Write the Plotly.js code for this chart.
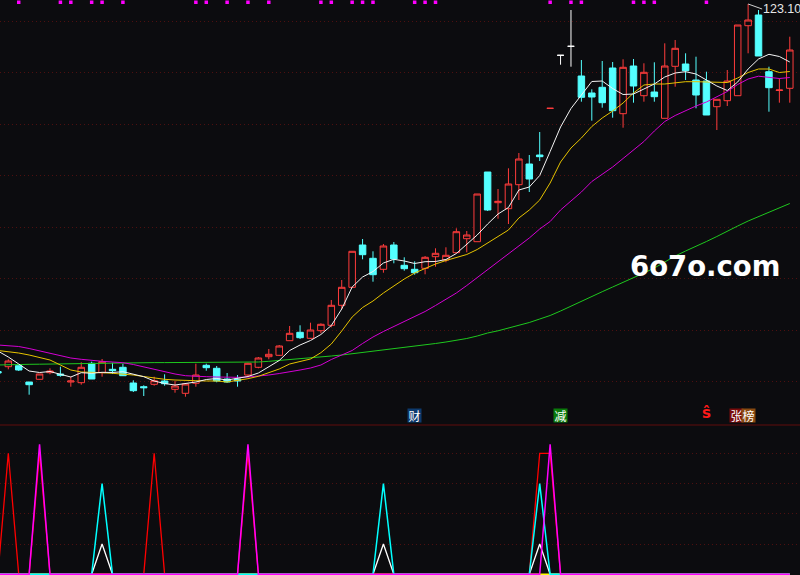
<!DOCTYPE html>
<html><head><meta charset="utf-8">
<script src="https://cdn.plot.ly/plotly-3.0.1.min.js"></script>
<style>html,body{margin:0;padding:0;background:#0c0c0f;}#chart{width:800px;height:575px;}</style>
</head><body><div id="chart"></div>
<script>
// ---- price data (one entry per trading day) ----
const open = [49.6,50.56,50.76,47.5,48.04,49.36,49.1,47.5,47.36,51.24,49.36,50.04,50.44,47.3,46.56,47.04,47.7,46.04,45.24,47.24,50.84,50.24,48.1,48.1,48.9,50.44,52.56,52.84,55.76,57.44,56.24,57.76,58.84,62.84,66.44,74.9,72.24,70.04,74.9,70.84,70.04,70.24,72.56,71.9,73.36,76.16,75.56,89.5,83.36,82.16,86.96,91.1,92.9,102.24,112.84,114.64,108.7,105.3,106.44,110.3,101.16,110.7,104.76,105.5,100.24,110.64,111.1,107.9,107.7,102.56,103.76,104.76,118.76,120.9,109.56,105.8,106.24];
const high = [49.9,52.04,50.8,47.5,49.1,50.24,50.56,48.56,51.44,51.56,52.1,51.36,51.16,47.84,46.84,48.56,49.04,47.7,47.1,51.16,51.16,50.7,49.3,48.9,51.36,52.5,54.1,54.9,58.7,58.84,59.36,59.24,63.9,67.9,73.64,76.1,73.64,75.1,75.5,72.44,71.64,72.7,74.24,74.44,78.24,77.7,85.1,89.5,86.1,90.24,93.3,92.9,97.5,102.24,112.84,121.9,111.9,106.04,111.7,111.5,112.04,112.1,111.24,111.44,115.24,115.9,113.24,112.56,109.56,104.04,109.9,118.9,123.1,121.9,110.56,108.24,116.56];
const low = [49.1,50.04,49.7,44.96,48.0,49.04,48.56,46.56,46.96,48.1,48.56,49.1,48.7,45.5,44.7,46.76,46.76,45.36,44.56,46.56,49.76,47.44,47.36,46.56,48.56,50.24,52.04,52.7,55.76,56.1,56.1,57.24,58.44,62.1,66.44,72.04,67.56,69.36,71.24,69.76,68.96,69.04,70.56,71.44,73.24,73.44,75.56,81.7,80.16,79.1,83.9,85.5,91.7,102.24,110.96,110.56,103.56,99.76,102.36,100.36,98.36,103.36,103.56,103.56,100.24,106.56,107.9,102.24,100.9,97.9,102.7,104.76,113.24,112.7,101.56,103.36,103.36];
const close = [49.3,51.7,49.9,46.96,49.1,49.7,48.84,47.7,50.44,48.1,51.56,49.76,48.76,45.76,46.36,47.76,47.16,46.7,47.1,48.9,50.36,47.7,47.5,47.7,51.24,52.3,53.04,54.7,57.24,56.36,57.9,59.04,62.84,66.44,73.64,72.96,68.96,74.7,72.1,70.16,69.36,72.44,73.24,72.84,77.56,76.9,85.1,81.9,83.64,87.1,92.1,88.1,92.56,102.24,112.84,114.64,104.44,104.5,103.36,101.76,110.44,106.7,109.44,104.56,110.7,114.24,109.76,104.9,100.9,104.04,107.7,118.9,119.9,112.7,106.36,105.9,113.9];

// ---- moving averages ----
const ma5 = [53.7,52.5,51.1,49.7,49.4,49.6,49.04,48.5,49.36,49.24,49.44,49.4,49.56,49.04,48.56,47.7,47.2,46.9,47.2,47.5,48.0,48.2,47.9,48.2,48.6,49.3,50.5,51.8,53.8,54.9,55.8,57.0,58.8,62.1,66.5,68.5,69.6,71.3,72.04,71.7,71.2,71.56,71.6,72.0,73.2,75.1,76.9,79.1,81.1,82.4,85.9,86.5,88.8,93.6,98.5,102.2,104.9,107.6,107.7,106.2,105.0,105.1,106.1,107.1,108.5,109.3,109.56,109.1,107.9,106.7,105.8,107.5,110.1,112.1,113.04,112.6,111.5];
const ma10 = [53.8,53.6,53.3,52.9,52.4,51.9,50.9,49.9,49.5,49.36,49.36,49.24,49.1,48.9,48.6,48.3,48.04,47.9,47.9,47.76,47.7,47.7,47.5,47.8,48.16,48.64,49.4,50.1,51.1,51.56,52.1,53.36,55.1,57.7,60.5,62.4,63.7,65.3,66.7,68.1,69.3,70.2,71.1,71.8,72.4,73.0,74.0,75.3,76.5,77.9,80.3,81.9,83.9,87.3,91.5,94.3,96.3,98.6,100.3,101.7,103.3,105.3,106.9,107.1,107.1,107.4,107.56,107.56,107.5,107.36,107.4,108.3,109.4,110.1,110.1,109.4,109.6];
const ma20 = [54.9,54.8,54.6,54.2,53.7,53.3,52.7,52.3,52.04,51.8,51.64,51.5,51.36,51.0,50.5,50.0,49.5,49.1,48.76,48.6,48.56,48.5,48.4,48.44,48.5,48.64,48.9,49.2,49.5,49.9,50.3,50.9,52.0,52.9,53.8,55.2,56.5,57.6,58.6,59.6,60.6,61.6,62.8,64.0,65.3,66.8,68.4,69.9,71.5,73.1,74.7,76.3,78.1,79.6,81.9,83.7,85.5,87.6,89.1,90.5,92.2,93.9,95.6,97.7,99.6,100.8,101.8,102.7,103.5,104.6,105.6,107.0,108.1,108.66,108.4,108.2,108.4];
const ma60 = [50.9,50.9,51.0,51.04,51.06,51.1,51.1,51.2,51.24,51.26,51.3,51.34,51.36,51.36,51.36,51.38,51.38,51.4,51.4,51.42,51.42,51.44,51.44,51.42,51.4,51.5,51.64,51.8,51.94,52.14,52.34,52.5,52.7,52.9,53.14,53.4,53.64,53.9,54.14,54.4,54.66,54.9,55.2,55.5,55.8,56.2,56.7,57.3,57.74,58.3,58.8,59.4,60.1,60.8,61.7,62.7,63.7,64.6,65.56,66.5,67.4,68.3,69.3,70.3,71.5,72.7,73.7,74.6,75.6,76.6,77.7,78.7,79.7,80.6,81.5,82.4,83.2];

// ---- flag days (magenta squares on top) ----
const flagIdx = [2,6,7,9,10,12,19,20,22,24,26,31,32,34,35,36,40,41,42,53,55,56,61,62,63,68];

// ---- lower indicator ----
const indRed     = [0,4,0,0,4,0,0,0,0,0,0,0,0,0,0,4,0,0,0,0,0,0,0,0,4,0,0,0,0,0,0,0,0,0,0,0,0,0,0,0,0,0,0,0,0,0,0,0,0,0,0,0,4,4,0,0,0,0,0,0,0,0,0,0,0,0,0,0,0,0,0,0,0,0,0,0,0];
const indMagenta = [0,0,0,0,4.3,0,0,0,0,0,0,0,0,0,0,0,0,0,0,0,0,0,0,0,4.3,0,0,0,0,0,0,0,0,0,0,0,0,0,0,0,0,0,0,0,0,0,0,0,0,0,0,0,0,4.3,0,0,0,0,0,0,0,0,0,0,0,0,0,0,0,0,0,0,0,0,0,0,0];
const indCyan    = [0,0,0,0,0,0,0,0,0,0,3,0,0,0,0,0,0,0,0,0,0,0,0,0,0,0,0,0,0,0,0,0,0,0,0,0,0,3,0,0,0,0,0,0,0,0,0,0,0,0,0,0,3,0,0,0,0,0,0,0,0,0,0,0,0,0,0,0,0,0,0,0,0,0,0,0,0];
const indWhite   = [0,0,0,0,0,0,0,0,0,0,1,0,0,0,0,0,0,0,0,0,0,0,0,0,0,0,0,0,0,0,0,0,0,0,0,0,0,1,0,0,0,0,0,0,0,0,0,0,0,0,0,0,1,0,0,0,0,0,0,0,0,0,0,0,0,0,0,0,0,0,0,0,0,0,0,0,0];
const indYellow  = open.map(() => 0);

// ---- text marks ----
const highLabel = '123.10';
const highIdx = 72;

const BG = '#0c0c0f';
const idx = open.map((_, i) => i);
function pick(cond) {
  const s = idx.filter(cond);
  return {x: s, open: s.map(i => open[i]), high: s.map(i => high[i]), low: s.map(i => low[i]), close: s.map(i => close[i])};
}
const upSet = pick(i => close[i] > open[i] || (close[i] === open[i] && high[i] === low[i]));
const dnSet = pick(i => close[i] < open[i]);
const flatSet = pick(i => close[i] === open[i] && high[i] !== low[i]);

function candle(s, color, fill) {
  return {type: 'candlestick', x: s.x, open: s.open, high: s.high, low: s.low, close: s.close,
    xaxis: 'x', yaxis: 'y', whiskerwidth: 0, hoverinfo: 'skip',
    increasing: {line: {color: color, width: 1}, fillcolor: fill},
    decreasing: {line: {color: color, width: 1}, fillcolor: fill}};
}
function line(y, color, yaxis, w) {
  return {type: 'scatter', mode: 'lines', x: idx, y: y, xaxis: 'x', yaxis: yaxis,
    line: {color: color, width: w || 1}, hoverinfo: 'skip'};
}

const yMain = [38.9, 123.9];
const traces = [
  candle(upSet, '#ff3c3c', BG),
  candle(dnSet, '#54ffff', '#54ffff'),
  candle(flatSet, '#ffffff', '#ffffff'),
  line(ma60, '#1ec81e', 'y'),
  line(ma20, '#d400d4', 'y'),
  line(ma10, '#e6c300', 'y'),
  line(ma5, '#f4f4f4', 'y'),
  {type: 'scatter', mode: 'markers', x: flagIdx, y: flagIdx.map(() => yMain[1] - 0.45), xaxis: 'x', yaxis: 'y',
   marker: {symbol: 'square', size: 3.5, color: '#ff00ff', line: {width: 0}}, hoverinfo: 'skip', cliponaxis: false},
  line(indYellow, '#ffff00', 'y2', 1.5),
  line(indWhite, '#ffffff', 'y2', 1.3),
  line(indRed, '#ff0000', 'y2', 1.3),
  line(indCyan, '#00ffff', 'y2', 1.5),
  line(indMagenta, '#ff00ff', 'y2', 1.5)
];

const sep = 150 / 575;
const grid = '#4e1010';
const layout = {
  width: 800, height: 575, margin: {l: 0, r: 0, t: 0, b: 0, pad: 0},
  paper_bgcolor: BG, plot_bgcolor: BG, showlegend: false,
  boxgap: 0.22, boxgroupgap: 0.2,
  xaxis: {range: [0.2035, 76.98], showgrid: false, zeroline: false, showticklabels: false, ticks: '',
          showline: false, rangeslider: {visible: false}, fixedrange: true},
  yaxis: {domain: [sep, 1], range: yMain, showgrid: true, gridcolor: grid, griddash: '1px,3px', gridwidth: 1,
          tick0: 47.6, dtick: 10.3, zeroline: false, showticklabels: false, ticks: '', showline: false},
  yaxis2: {domain: [0, sep], range: [-0.023, 4.936], showgrid: true, gridcolor: grid, griddash: '1px,3px', gridwidth: 1,
          tick0: 0, dtick: 1, zeroline: false, showticklabels: false, ticks: '', showline: false},
  shapes: [
    {type: 'line', xref: 'paper', yref: 'paper', x0: 0, x1: 1, y0: sep, y1: sep, line: {color: '#600c0c', width: 1}}
  ],
  annotations: [
    {x: highIdx, y: high[highIdx], xref: 'x', yref: 'y', text: highLabel, showarrow: true, arrowhead: 0,
     arrowwidth: 1, arrowcolor: '#d0d0d0', ax: 14, ay: 5, xanchor: 'left', yanchor: 'middle', standoff: 0,
     borderpad: 0, font: {family: 'Liberation Sans, Arial', size: 12.5, color: '#e6e6e6'}},
    {x: 0.881, y: 0.538, xref: 'paper', yref: 'paper', xanchor: 'center', yanchor: 'middle', text: '<b>6o7o.com</b>', showarrow: false,
     font: {family: 'DejaVu Sans', size: 27.5, color: '#ffffff'}},
    {x: 40, y: 423, xref: 'x', yref: 'paper', text: '财', showarrow: false, bgcolor: '#0d3a6e', width: 13, height: 13,
     borderpad: 0, font: {family: 'Noto Sans CJK SC', size: 12, color: '#ffffff'}},
    {x: 54, y: 423, xref: 'x', yref: 'paper', text: '减', showarrow: false, bgcolor: '#0a7a0a', width: 13, height: 13,
     borderpad: 0, font: {family: 'Noto Sans CJK SC', size: 12, color: '#ffffff'}},
    {x: 68, y: 423, xref: 'x', yref: 'paper', text: '<b>ŝ</b>', showarrow: false,
     borderpad: 0, font: {family: 'DejaVu Sans', size: 15, color: '#ff1a1a'}},
    {x: 70.87, y: 423, xref: 'x', yref: 'paper', text: '张', showarrow: false, bgcolor: '#7a0c0c', width: 13, height: 13,
     borderpad: 0, font: {family: 'Noto Sans CJK SC', size: 12, color: '#ffffff'}},
    {x: 72.08, y: 423, xref: 'x', yref: 'paper', text: '榜', showarrow: false, bgcolor: '#8a4a10', width: 13, height: 13,
     borderpad: 0, font: {family: 'Noto Sans CJK SC', size: 12, color: '#ffffff'}}
  ]
};
// convert pixel-row y of the label strip into paper coordinates
layout.annotations.forEach(a => { if (a.yref === 'paper' && a.y > 1) a.y = (575 - a.y) / 575; });

Plotly.newPlot('chart', traces, layout, {staticPlot: true, displayModeBar: false});
</script>
</body></html>
